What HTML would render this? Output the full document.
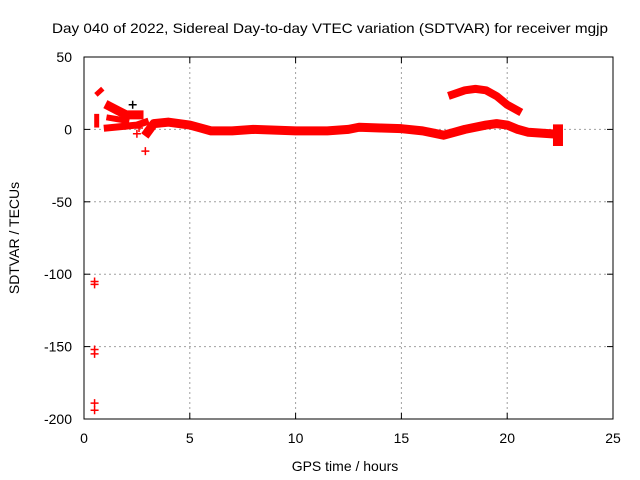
<!DOCTYPE html>
<html><head><meta charset="utf-8"><style>
body{margin:0;background:#fff;}
svg{display:block;font-family:"Liberation Sans",sans-serif;}
</style></head><body>
<svg id="c" width="640" height="480" viewBox="0 0 640 480">
<rect width="640" height="480" fill="#fff"/>
<text x="52" y="33" font-size="14" textLength="556" lengthAdjust="spacingAndGlyphs">Day 040 of 2022, Sidereal Day-to-day VTEC variation (SDTVAR) for receiver mgjp</text>
<text x="345" y="471" font-size="14" text-anchor="middle">GPS time / hours</text>
<text transform="translate(19,238) rotate(-90)" font-size="14" text-anchor="middle">SDTVAR / TECUs</text>
<g id="grid"></g><g id="series"></g>
<rect x="84" y="57" width="529" height="362" fill="none" stroke="#000" stroke-width="1"/>
</svg>
<script>
const xTicks=[0,5,10,15,20,25];
const yTicks=[50,0,-50,-100,-150,-200];
const trackMain=[[3.0,-2],[3.3,4],[4,5],[5,3],[5.5,1],[6,-1],[7,-1],[8,0],[10,-1],[11.5,-1],[12.5,0],[13,1.5],[14,1],[15,0.5],[16,-1],[17,-4],[17.5,-2],[18,0],[19,3],[19.5,4],[20,3],[20.5,0],[21,-2],[22,-3]];
const trackHump=[[17.4,24],[18,27],[18.5,28],[19,27],[19.5,23],[20,17],[20.5,13]];
const trackEarlyUpper=[[1.2,16],[1.6,13],[2.0,10],[2.6,10]];
const trackEarlyLower=[[1.1,1],[1.8,2],[2.5,3],[2.9,5]];
const trackEarlyMid=[[1.2,8],[1.6,7],[2.0,6]];
const trackBlob=[[0.65,25],[0.8,27]];
const trackLeft=[[0.6,3],[0.6,9]];
const trackEnd=[[22.4,-8],[22.4,0]];
const scatterPts=[[0.5,-105],[0.5,-107],[0.5,-152],[0.5,-155],[0.5,-189],[0.5,-194],[2.9,-15],[2.5,-3],[2.6,1]];
const blackPts=[[2.3,17]];
const NS="http://www.w3.org/2000/svg";
const X=h=>84+h*529/25, Y=v=>57+(50-v)*362/250;
const g=document.getElementById('grid'), s=document.getElementById('series');
function mk(tag,a,p){const e=document.createElementNS(NS,tag);for(const k in a)e.setAttribute(k,a[k]);p.appendChild(e);return e;}
xTicks.forEach(t=>{
 if(t>0&&t<25){const l=mk('line',{x1:X(t),x2:X(t),y1:57,y2:419,stroke:'#a0a0a0','stroke-dasharray':'2,3'},g);
 
 }
 mk('line',{x1:X(t),x2:X(t),y1:419,y2:413,stroke:'#000'},g);
 mk('line',{x1:X(t),x2:X(t),y1:57,y2:63,stroke:'#000'},g);
 const tx=mk('text',{x:X(t),y:443,'font-size':14,'text-anchor':'middle'},g);tx.textContent=t;
 
 
});
yTicks.forEach(t=>{
 if(t<50&&t>-200){const l=mk('line',{x1:84,x2:613,y1:Y(t),y2:Y(t),stroke:'#a0a0a0','stroke-dasharray':'2,3'},g);
 
 }
 mk('line',{x1:84,x2:90,y1:Y(t),y2:Y(t),stroke:'#000'},g);
 mk('line',{x1:613,x2:607,y1:Y(t),y2:Y(t),stroke:'#000'},g);
 const tx=mk('text',{x:72,y:Y(t)+5,'font-size':14,'text-anchor':'end'},g);tx.textContent=t;
 
 
});
function track(d,w,name){
 const p=mk('polyline',{points:d.map(q=>X(q[0])+','+Y(q[1])).join(' '),fill:'none',stroke:'#f00','stroke-width':w,'stroke-linejoin':'round','stroke-linecap':'square'},s);
 
 
}
track(trackMain,9,'series-main');
track(trackHump,8,'series-hump');
track(trackEarlyUpper,9,'series-early-upper');
track(trackEarlyLower,7,'series-early-lower');
track(trackEarlyMid,6,'series-early-mid');
track(trackBlob,5,'series-blob');
track(trackLeft,5,'series-left');
track(trackEnd,10,'series-end');
function plus(q,c,name){
 const x=X(q[0]),y=Y(q[1]);
 const p=mk('path',{d:`M${x-4},${y}H${x+4}M${x},${y-4}V${y+4}`,stroke:c,'stroke-width':1.5},s);
 
 
}
scatterPts.forEach(q=>plus(q,'#f00','outlier-point'));
blackPts.forEach(q=>plus(q,'#000','black-point'));
</script>
</body></html>
